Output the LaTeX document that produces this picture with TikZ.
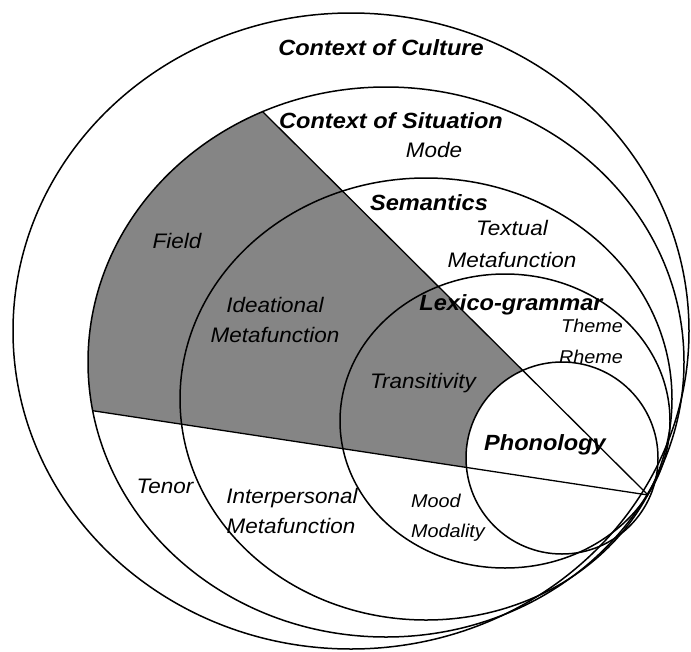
\documentclass[tikz,border=0pt]{standalone}
\usepackage{fontspec}
\setmainfont{Liberation Sans}[FakeStretch=1.07]
\usetikzlibrary{calc}
\begin{document}
\begin{tikzpicture}[x=1pt,y=-1pt,
  ring/.style={line width=1.5pt},
  divider/.style={line width=1.3pt},
  title/.style={font=\bfseries\itshape\fontsize{22}{24}\selectfont, inner sep=0pt, anchor=base},
  lbl/.style={font=\itshape\fontsize{21}{23}\selectfont, inner sep=0pt, anchor=base},
  sublbl/.style={font=\itshape\fontsize{18.5}{20}\selectfont, inner sep=0pt, anchor=base}]
\useasboundingbox (0,0) rectangle (691,651);
\fill[white] (0,0) rectangle (691,651);

% meeting point of the two dividing lines
\coordinate (apex) at (648,495);
\coordinate (topend) at (263,112);
\coordinate (leftend) at (88,410);

% shaded field / ideational sector inside the context of situation
\begin{scope}
  \clip (386,362) ellipse [x radius=298, y radius=275];
  \fill[black!48] (apex) -- ($(apex)!1.5!(topend)$) -- ($(apex)!1.5!(leftend)$) -- cycle;
  \fill[white] (562,458) circle [radius=96];
  \draw[divider] (apex) -- ($(apex)!1.5!(topend)$);
  \draw[divider] (apex) -- ($(apex)!1.5!(leftend)$);
\end{scope}

% nested strata
\draw[ring] (351,331) ellipse [x radius=338, y radius=318];
\draw[ring] (386,362) ellipse [x radius=298, y radius=275];
\draw[ring] (426,399) ellipse [x radius=246, y radius=221];
\draw[ring] (505,421) ellipse [x radius=165, y radius=147];
\draw[ring] (562,458) circle [radius=96];

% labels
\node[title] (culture) at (381,55) {Context of Culture};
\node[title] (situation) at (391,128) {Context of Situation};
\node[lbl] (mode) at (434,157) {Mode};
\node[title] (semantics) at (429,210) {Semantics};
\node[lbl] (textual) at (512,235) {Textual};
\node[lbl] (textualmf) at (512,267) {Metafunction};
\node[title] (lexgram) at (511,310) {Lexico-grammar};
\node[sublbl] (theme) at (592,332) {Theme};
\node[sublbl] (rheme) at (591,363) {Rheme};
\node[lbl] (field) at (177,248) {Field};
\node[lbl] (ideational) at (275,312) {Ideational};
\node[lbl] (ideationalmf) at (275,342) {Metafunction};
\node[lbl] (transitivity) at (423,388) {Transitivity};
\node[title] (phonology) at (545,450) {Phonology};
\node[lbl] (tenor) at (165,493) {Tenor};
\node[lbl] (interpersonal) at (292,503) {Interpersonal};
\node[lbl] (interpersonalmf) at (291,533) {Metafunction};
\node[sublbl] (mood) at (436,507) {Mood};
\node[sublbl] (modality) at (448,537) {Modality};
\end{tikzpicture}
\end{document}
